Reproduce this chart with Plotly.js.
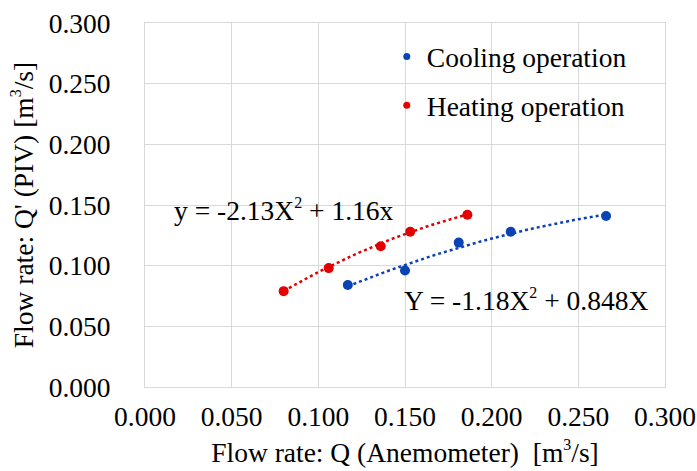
<!DOCTYPE html>
<html>
<head>
<meta charset="utf-8">
<script src="https://cdn.plot.ly/plotly-3.0.1.min.js"></script>
<style>html,body{margin:0;padding:0;background:#fff;}#chart{width:697px;height:471px;}</style>
</head>
<body>
<div id="chart"></div>
<script>
// Data
var coolingQ = [0.117, 0.150, 0.181, 0.211, 0.266];
var coolingQp = [0.084, 0.096, 0.119, 0.128, 0.141];
var heatingQ = [0.080, 0.106, 0.136, 0.153, 0.186];
var heatingQp = [0.079, 0.098, 0.116, 0.128, 0.142];
// Trendline coefficients as printed on the chart: y = a*x^2 + b*x
var coolingFit = [-1.18, 0.848];
var heatingFit = [-2.13, 1.16];
var seriesNames = ["Cooling operation", "Heating operation"];
var sup2 = "<sup><span style=\"font-size:16px\">2</span></sup>";
var sup3 = "<sup><span style=\"font-size:16px\">3</span></sup>";
var coolingEq = "Y = -1.18X" + sup2 + " + 0.848X";
var heatingEq = "y = -2.13X" + sup2 + " + 1.16x";
var xTitle = "Flow rate: Q (Anemometer)\u00a0 [m" + sup3 + "/s]";
var yTitle = "Flow rate: Q' (PIV) [m" + sup3 + "/s]";
var tickVals = [0, 0.05, 0.10, 0.15, 0.20, 0.25, 0.30];
var tickText = ["0.000", "0.050", "0.100", "0.150", "0.200", "0.250", "0.300"];

var blue = "#0B42B4";
var red = "#E30000";
var font = "Liberation Serif, Times New Roman, serif";
var fs = 27.5;

function trend(xs, coef) {
  var lo = Math.min.apply(null, xs), hi = Math.max.apply(null, xs);
  var x = [], y = [];
  for (var i = 0; i <= 40; i++) {
    var v = lo + (hi - lo) * i / 40;
    x.push(v);
    y.push(coef[0] * v * v + coef[1] * v);
  }
  return {x: x, y: y};
}
var tc = trend(coolingQ, coolingFit);
var th = trend(heatingQ, heatingFit);

var traces = [
  {x: tc.x, y: tc.y, mode: "lines", line: {color: blue, width: 2.5, dash: "dot"}, showlegend: false, hoverinfo: "skip"},
  {x: th.x, y: th.y, mode: "lines", line: {color: red, width: 2.5, dash: "dot"}, showlegend: false, hoverinfo: "skip"},
  {x: coolingQ, y: coolingQp, mode: "markers", marker: {color: blue, size: 10}, showlegend: false},
  {x: heatingQ, y: heatingQp, mode: "markers", marker: {color: red, size: 10}, showlegend: false},
  {x: [null], y: [null], mode: "markers", marker: {color: blue, size: 7}, name: seriesNames[0], legendgroup: "a"},
  {x: [null], y: [null], mode: "markers", marker: {color: red, size: 7}, name: seriesNames[1], legendgroup: "b"}
];

var axisCommon = {
  range: [0, 0.3],
  tickvals: tickVals,
  ticktext: tickText,
  showgrid: true,
  gridcolor: "#D9D9D9",
  gridwidth: 1,
  zeroline: false,
  showline: true,
  linecolor: "#D9D9D9",
  linewidth: 1,
  mirror: true,
  ticks: "",
  tickfont: {family: font, size: fs, color: "#000"}
};

var layout = {
  width: 697, height: 471,
  margin: {l: 145, r: 32, t: 23, b: 84},
  paper_bgcolor: "#fff", plot_bgcolor: "#fff",
  font: {family: font, color: "#000"},
  xaxis: Object.assign({}, axisCommon, {
    ticklabelstandoff: 5,
    title: {text: xTitle, font: {family: font, size: fs, color: "#000"}, standoff: 11}
  }),
  yaxis: Object.assign({}, axisCommon, {
    ticklabelstandoff: 28,
    title: {text: yTitle, font: {family: font, size: fs, color: "#000"}, standoff: 7}
  }),
  legend: {
    x: 0.465, y: 0.975, xanchor: "left", yanchor: "top",
    bgcolor: "rgba(0,0,0,0)",
    font: {family: font, size: fs, color: "#000"},
    traceorder: "grouped", tracegroupgap: 10,
    itemwidth: 30
  },
  annotations: [
    {x: 0.0155, y: 0.1455, xref: "x", yref: "y", xanchor: "left", yanchor: "middle", text: heatingEq, showarrow: false, font: {family: font, size: fs, color: "#000"}},
    {x: 0.1480, y: 0.0718, xref: "x", yref: "y", xanchor: "left", yanchor: "middle", text: coolingEq, showarrow: false, font: {family: font, size: fs, color: "#000"}}
  ]
};

Plotly.newPlot("chart", traces, layout, {displayModeBar: false, staticPlot: true});
</script>
</body>
</html>
